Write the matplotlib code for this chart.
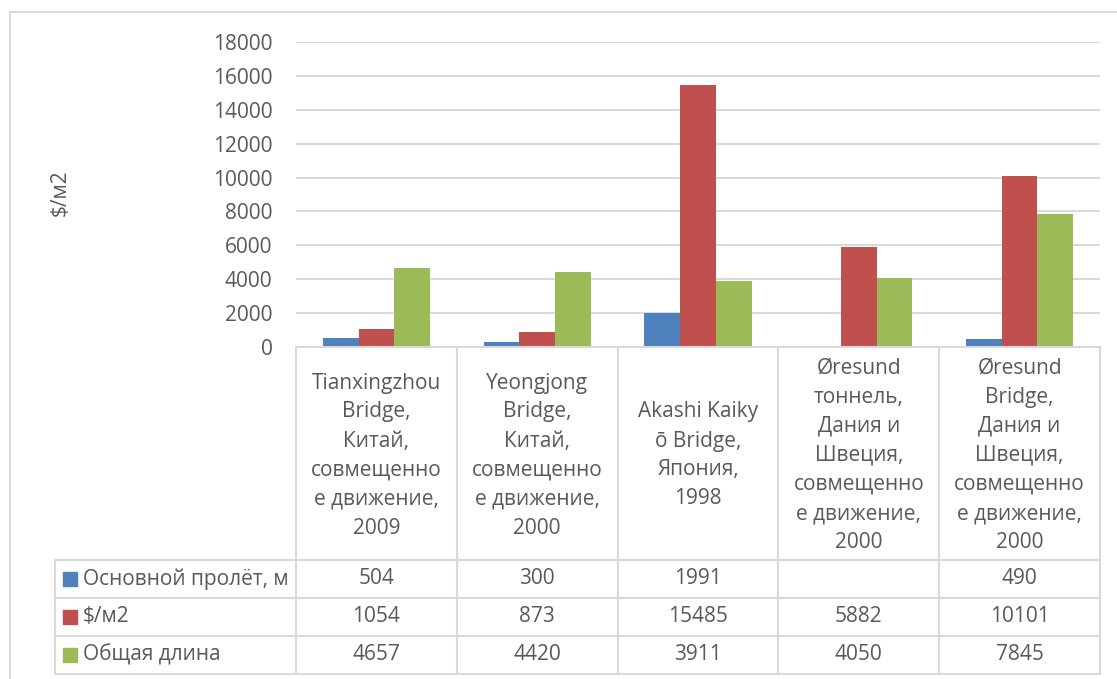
import numpy as np
import matplotlib
matplotlib.use("Agg")
import matplotlib.pyplot as plt
import matplotlib.transforms as mtransforms
from matplotlib.patches import Rectangle
from matplotlib.lines import Line2D

plt.rcParams['font.family'] = ['Open Sans', 'DejaVu Sans']

# data
categories = [
    "Tianxingzhou\nBridge,\nКитай,\nсовмещенно\nе движение,\n2009",
    "Yeongjong\nBridge,\nКитай,\nсовмещенно\nе движение,\n2000",
    "Akashi Kaiky\nō Bridge,\nЯпония,\n1998",
    "Øresund\nтоннель,\nДания и\nШвеция,\nсовмещенно\nе движение,\n2000",
    "Øresund\nBridge,\nДания и\nШвеция,\nсовмещенно\nе движение,\n2000",
]
series_names = ["Основной пролёт, м", "$/м2", "Общая длина"]
span_m = [504, 300, 1991, np.nan, 490]
cost_m2 = [1054, 873, 15485, 5882, 10101]
total_len = [4657, 4420, 3911, 4050, 7845]
series = [span_m, cost_m2, total_len]
colors = ["#4F81BD", "#C0504D", "#9BBB59"]

text_col = "#595959"
line_col = "#D9D9D9"
fs = 15
W, H = 1117, 679

fig = plt.figure(figsize=(W / 100, H / 100), dpi=100)
ax = fig.add_axes([296 / W, 1 - 347 / H, (1100 - 296) / W, 305 / H])

x = np.arange(len(categories))
bw = 1 / 4.5
for i, vals in enumerate(series):
    ax.bar(x + (i - 1) * bw, vals, bw, color=colors[i], zorder=3)

ax.set_xlim(-0.5, len(categories) - 0.5)
ax.set_ylim(0, 18000)
ax.set_yticks(range(0, 18001, 2000))
ax.set_xticks([])
ax.grid(axis='y', color=line_col, lw=1.4)
ax.set_axisbelow(True)
for s in ax.spines.values():
    s.set_visible(False)
ax.tick_params(length=0, labelsize=fs, labelcolor=text_col, pad=17)
ax.set_ylabel("\\$/м2", fontsize=fs, color=text_col)
ax.yaxis.set_label_coords((71 - 296) / 804, (347 - 193) / 305)

# data table under the axis
trans = mtransforms.blended_transform_factory(ax.transData, ax.transAxes)
row_y = [(347 - p) / 305 for p in [347, 560, 598, 636, 674]]
left_x = -2.0
col_edges = np.arange(len(categories) + 1) - 0.5

def tline(xs, ys):
    ax.add_line(Line2D(xs, ys, transform=trans, color=line_col, lw=1.5,
                       clip_on=False, zorder=4))

tline([col_edges[0], col_edges[-1]], [0, 0])
for ce in col_edges:
    tline([ce, ce], [row_y[0], row_y[-1]])
tline([left_x, left_x], [row_y[1], row_y[-1]])
for ry in row_y[1:]:
    tline([left_x, col_edges[-1]], [ry, ry])

head_mid = (row_y[0] + row_y[1]) / 2 - 2 / 305
for i, cat in enumerate(categories):
    ax.text(x[i], head_mid, cat, transform=trans, ha='center', va='center',
            fontsize=fs, color=text_col, linespacing=1.5)

for r, (name, vals) in enumerate(zip(series_names, series)):
    ym = (row_y[r + 1] + row_y[r + 2]) / 2
    ax.add_patch(Rectangle((-1.949, ym - 0.022), 0.087, 0.044, transform=trans,
                           color=colors[r], clip_on=False))
    ax.text(-1.825, ym, name.replace("$", "\\$"), transform=trans, ha='left',
            va='center', fontsize=fs, color=text_col)
    for i, v in enumerate(vals):
        if not np.isnan(v):
            ax.text(x[i], ym, f"{v:.0f}", transform=trans, ha='center',
                    va='center', fontsize=fs, color=text_col)

# chart frame
fig.add_artist(Line2D([10 / W, 10 / W], [0, 1 - 12 / H], color=line_col, lw=1.5))
fig.add_artist(Line2D([10 / W, 1], [1 - 12 / H, 1 - 12 / H], color=line_col, lw=1.5))

fig.savefig("out.png", dpi=100)
